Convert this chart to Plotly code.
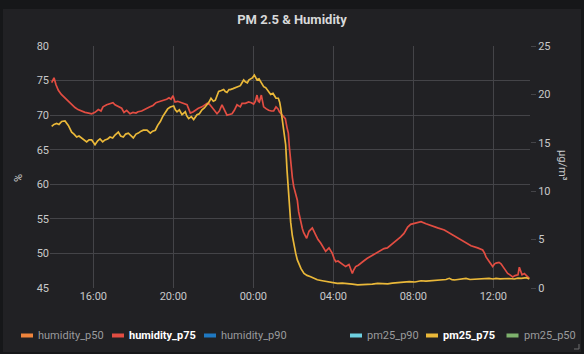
import pandas as pd
import plotly.graph_objects as go

BASE_DATE = "2019-11-20"

hum_time = ["13:55","14:02","14:08","14:15","14:24","14:35","14:45","14:55","15:05","15:14",
            "15:24","15:35","15:46","15:55","16:05","16:15","16:23","16:29","16:40","16:50",
            "16:59","17:05","17:15","17:25","17:32","17:40","17:50","17:59","18:08","18:14",
            "18:25","18:35","18:44","18:50","18:59","19:08","19:14","19:23","19:31","19:40",
            "19:47","19:53","19:59","20:05","20:13","20:20","20:29","20:41","20:46","20:51",
            "21:00","21:06","21:15","21:26","21:33","21:41","21:48","21:56","22:03","22:11",
            "22:18","22:26","22:33","22:41","22:48","22:56","23:03","23:11","23:21","23:26",
            "23:36","23:46","23:54","00:01","00:06","00:11","00:15","00:18","00:24","00:31",
            "00:39","00:46","00:54","01:01","01:08","01:14","01:18","01:26","01:32","01:36",
            "01:41","01:45","01:48","01:51","01:57","02:01","02:06","02:12","02:16","02:22",
            "02:27","02:31","02:40","02:47","02:57","03:07","03:14","03:22","03:29","03:37",
            "03:47","03:57","04:02","04:07","04:14","04:22","04:29","04:37","04:47","04:52",
            "04:57","05:01","05:07","05:15","05:22","05:31","05:42","05:52","06:02","06:12",
            "06:22","06:32","06:42","06:52","07:02","07:10","07:17","07:22","07:32","07:43",
            "07:52","08:08","08:23","08:38","08:53","09:13","09:33","09:53","10:13","10:33",
            "10:53","11:13","11:28","11:34","11:38","11:48","11:58","12:04","12:08","12:17",
            "12:23","12:33","12:43","12:50","12:58","13:05","13:14","13:18","13:26","13:33",
            "13:42","13:48"]
humidity_p75 = [74.7,75.4,74.4,73.6,73.0,72.5,72.0,71.5,71.1,70.8,
                70.6,70.4,70.3,70.2,70.4,70.8,70.6,71.2,71.5,71.7,
                71.8,71.5,71.3,71.0,70.4,70.7,70.2,70.4,70.3,70.5,
                70.6,70.8,71.0,71.2,71.4,71.8,71.9,72.0,72.2,72.3,
                72.5,72.3,72.8,71.9,72.0,71.9,71.7,71.5,70.9,70.3,
                70.5,70.7,71.0,71.2,71.5,71.7,71.6,71.2,70.7,70.2,
                70.6,71.5,70.9,70.0,70.1,70.2,70.7,71.5,71.2,71.7,
                71.7,71.9,71.8,71.6,72.0,72.9,72.0,71.9,72.9,71.2,
                70.9,70.7,70.6,70.6,71.2,70.9,70.5,70.0,69.8,69.5,
                68.2,67.4,65.4,63.5,61.0,59.7,58.9,57.7,56.0,54.4,
                53.6,53.0,52.2,53.2,53.7,52.7,52.0,51.5,51.0,50.3,
                50.8,50.0,49.3,48.8,48.9,48.6,48.3,48.1,48.4,47.8,
                47.1,47.6,48.1,48.3,48.6,48.9,49.3,49.6,49.8,50.2,
                50.5,50.7,50.8,51.2,51.5,51.9,52.2,52.4,52.9,53.8,
                54.2,54.4,54.6,54.3,54.0,53.7,53.4,52.8,52.3,51.7,
                51.1,50.8,50.5,50.0,49.5,48.8,48.1,48.5,48.6,48.7,
                48.5,47.8,47.1,46.9,46.6,46.8,46.9,48.0,46.9,47.1,
                46.6,46.4]

pm_time = ["13:55","14:02","14:10","14:17","14:25","14:35","14:45","14:55","15:02","15:10",
           "15:17","15:25","15:32","15:40","15:47","15:55","16:01","16:05","16:13","16:20",
           "16:28","16:35","16:43","16:50","16:58","17:05","17:15","17:22","17:30","17:37",
           "17:45","17:53","18:00","18:08","18:15","18:23","18:30","18:41","18:46","18:51",
           "18:58","19:06","19:13","19:21","19:28","19:36","19:43","19:51","20:01","20:06",
           "20:11","20:18","20:26","20:36","20:40","20:46","20:54","21:01","21:06","21:11",
           "21:18","21:26","21:33","21:41","21:47","21:53","22:00","22:06","22:11","22:16",
           "22:24","22:31","22:36","22:41","22:47","22:51","22:59","23:06","23:14","23:21",
           "23:26","23:31","23:36","23:42","23:47","23:51","23:57","00:03","00:08","00:11",
           "00:17","00:22","00:27","00:31","00:37","00:42","00:47","00:52","00:59","01:04",
           "01:08","01:15","01:19","01:22","01:27","01:32","01:37","01:41","01:47","01:52",
           "01:57","02:02","02:07","02:12","02:17","02:23","02:32","02:41","02:52","03:01",
           "03:12","03:27","03:42","03:57","04:12","04:27","04:42","04:57","05:13","05:27",
           "05:43","05:57","06:13","06:27","06:43","06:57","07:13","07:27","07:48","08:05",
           "08:23","08:38","08:53","09:08","09:23","09:38","09:48","09:56","10:03","10:14",
           "10:26","10:38","10:50","11:03","11:17","11:33","11:47","11:59","12:08","12:20",
           "12:33","12:47","13:03","13:14","13:24","13:33","13:39","13:48"]
pm25_p75 = [16.7,16.9,17.0,16.9,17.2,17.25,16.8,16.1,15.9,15.6,
            15.7,15.5,15.3,15.1,15.3,15.3,15.0,14.8,15.2,15.4,
            15.1,15.3,15.4,15.6,15.5,15.8,16.1,15.7,15.6,15.9,
            16.0,15.7,15.5,15.9,16.0,16.2,16.3,16.3,16.1,16.0,
            16.2,16.3,16.8,17.2,17.7,18.2,18.5,18.7,18.8,18.4,
            18.2,18.4,17.9,18.2,17.8,17.5,17.7,17.4,17.6,17.9,
            18.0,18.4,18.6,18.9,19.2,19.6,19.3,19.4,19.9,20.3,
            20.4,20.5,20.3,20.2,20.5,20.5,20.6,20.7,20.8,20.9,
            21.2,21.5,21.3,21.2,21.5,21.6,21.7,22.0,21.6,21.5,
            21.6,21.3,21.1,20.8,20.7,20.5,20.2,20.0,20.1,19.8,
            19.6,19.6,19.2,18.6,17.5,16.3,14.8,12.2,8.6,6.8,
            5.4,4.3,3.6,2.9,2.4,2.0,1.5,1.3,1.17,1.0,
            0.85,0.75,0.65,0.55,0.48,0.50,0.48,0.40,0.33,0.33,
            0.33,0.40,0.48,0.45,0.42,0.50,0.55,0.58,0.65,0.62,
            0.75,0.72,0.75,0.80,0.83,0.88,1.0,0.85,0.83,0.90,
            0.95,1.0,0.88,0.90,0.93,0.93,1.0,0.93,1.0,0.95,
            1.0,0.98,0.93,1.02,1.0,1.05,1.07,0.93]

x_range = [BASE_DATE + " 13:50", "2019-11-21 13:50"]
left_ticks = [45, 50, 55, 60, 65, 70, 75, 80]
right_ticks = [0, 5, 10, 15, 20, 25]

legend_left = [("humidity_p50", "#EF843C", False), ("humidity_p75", "#E24D42", True),
               ("humidity_p90", "#1F78C1", False)]
legend_right = [("pm25_p90", "#6ED0E0", False), ("pm25_p75", "#EAB839", True),
                ("pm25_p50", "#7EB26D", False)]


def to_dt(times):
    out, day, prev = [], 0, None
    for t in times:
        h, m = map(int, t.split(":"))
        mins = h * 60 + m
        if prev is not None and mins < prev:
            day += 1
        prev = mins
        out.append(pd.Timestamp(BASE_DATE) + pd.Timedelta(days=day, minutes=mins))
    return out


W, H = 584, 354
L, R, T, B = 50, 54, 46, 66
PW, PH = W - L - R, H - T - B


def px(xp):
    return (xp - L) / PW


def py(yp):
    return (H - B - yp) / PH


FONT = "Roboto"
TXT = "#c8c9ca"
GRID = "#444448"

fig = go.Figure()
fig.add_trace(go.Scatter(x=to_dt(hum_time), y=humidity_p75, name="humidity_p75",
                         mode="lines", line=dict(color="#E24D42", width=1.7),
                         yaxis="y", showlegend=False))
fig.add_trace(go.Scatter(x=to_dt(pm_time), y=pm25_p75, name="pm25_p75",
                         mode="lines", line=dict(color="#EAB839", width=1.7),
                         yaxis="y2", showlegend=False))

shapes = [dict(type="rect", xref="paper", yref="paper", layer="below",
               x0=px(3), x1=px(581), y0=py(352), y1=py(9),
               fillcolor="#212124", line=dict(width=0))]
# resize handle in the panel corner
shapes.append(dict(type="path", xref="paper", yref="paper",
                   path="M %f,%f L %f,%f L %f,%f" % (px(579), py(344), px(579), py(349),
                                                      px(574), py(349)),
                   line=dict(color="#6e6e70", width=1)))
annotations = []

legend_items = [(legend_left, [21, 112, 204]), (legend_right, [350, 426, 506.5])]
for items, starts in legend_items:
    for (name, color, on), x0 in zip(items, starts):
        shapes.append(dict(type="line", xref="paper", yref="paper",
                           x0=px(x0), x1=px(x0 + 12), y0=py(335.5), y1=py(335.5),
                           line=dict(color=color, width=4)))
        annotations.append(dict(xref="paper", yref="paper", x=px(x0 + 15), y=py(335.5),
                                xanchor="left", yanchor="middle", showarrow=False,
                                text=("<b>%s</b>" % name) if on else name,
                                font=dict(family=FONT, size=11,
                                          color="#ffffff" if on else "#9a9b9d")))

annotations.append(dict(xref="paper", yref="paper", x=px(18), y=py(178),
                        xanchor="center", yanchor="middle", showarrow=False,
                        text="%", textangle=-90,
                        font=dict(family=FONT, size=11, color=TXT)))
annotations.append(dict(xref="paper", yref="paper", x=px(563), y=py(165),
                        xanchor="center", yanchor="middle", showarrow=False,
                        text="µg/m³", textangle=90,
                        font=dict(family=FONT, size=11, color=TXT)))

fig.update_layout(
    width=W, height=H,
    margin=dict(l=L, r=R, t=T, b=B),
    paper_bgcolor="#161719",
    plot_bgcolor="rgba(0,0,0,0)",
    font=dict(family=FONT, size=11, color=TXT),
    title=dict(text="<b>PM 2.5 &amp; Humidity</b>", x=0.5, xanchor="center",
               y=1 - 19.5 / H, yanchor="middle",
               font=dict(family=FONT, size=13, color="#d8d9da")),
    xaxis=dict(type="date", range=x_range, tickformat="%H:%M",
               tick0=BASE_DATE + " 00:00", dtick=4 * 3600 * 1000,
               showgrid=True, gridcolor=GRID, gridwidth=1,
               showline=False, zeroline=False, ticks="",
               tickfont=dict(family=FONT, size=11, color=TXT)),
    yaxis=dict(range=[45, 80], tickvals=left_ticks, showgrid=True, gridcolor=GRID,
               zeroline=False, showline=False, ticks="",
               tickfont=dict(family=FONT, size=11, color=TXT)),
    yaxis2=dict(range=[0, 25], tickvals=right_ticks, overlaying="y", side="right",
                showgrid=False, zeroline=False, showline=False,
                ticks="outside", ticklen=5, tickcolor=GRID,
                tickfont=dict(family=FONT, size=11, color=TXT)),
    shapes=shapes,
    annotations=annotations,
    showlegend=False,
)

fig.write_html("out.html")
